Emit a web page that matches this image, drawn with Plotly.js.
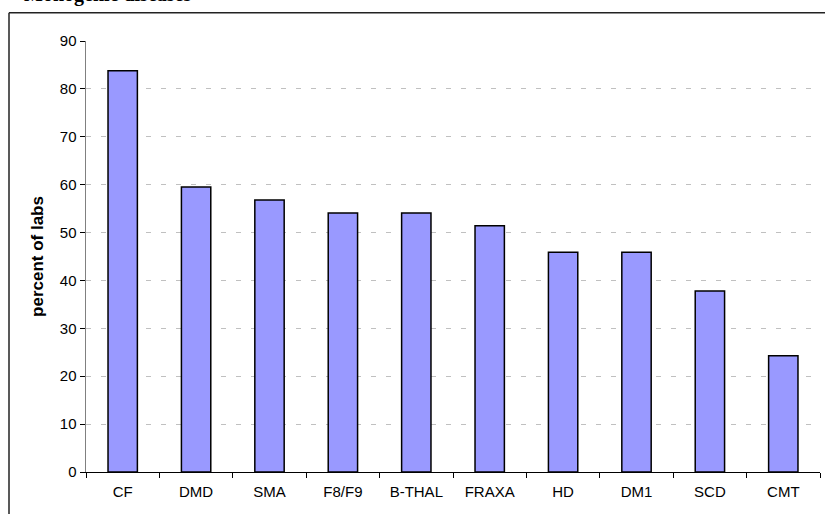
<!DOCTYPE html>
<html>
<head>
<meta charset="utf-8">
<script src="https://cdn.plot.ly/plotly-3.0.1.min.js"></script>
<style>html,body{margin:0;padding:0;background:#fff;}#chart{width:825px;height:514px;}</style>
</head>
<body>
<div id="chart"></div>
<script>
const categories = ["CF", "DMD", "SMA", "F8/F9", "B-THAL", "FRAXA", "HD", "DM1", "SCD", "CMT"];
const percentOfLabs = [83.8, 59.5, 56.8, 54.1, 54.1, 51.4, 45.9, 45.9, 37.8, 24.3];
const yTicks = [0, 10, 20, 30, 40, 50, 60, 70, 80, 90];
const titleText = "Monogenic diseases";
const yTitle = "percent of labs";

const trace = {
  type: "bar",
  x: categories,
  y: percentOfLabs,
  width: 0.4,
  marker: {color: "#9999FF", line: {color: "#000000", width: 1.5}},
  hoverinfo: "x+y"
};

const layout = {
  width: 825, height: 514,
  margin: {l: 86, r: 5, t: 41, b: 42, pad: 0},
  paper_bgcolor: "#ffffff",
  plot_bgcolor: "#ffffff",
  showlegend: false,
  font: {family: "Liberation Sans, Arial, sans-serif", size: 15, color: "#000"},
  xaxis: {
    type: "category",
    tickson: "boundaries",
    ticks: "outside", ticklen: 5, tickcolor: "#000", tickwidth: 1,
    ticklabelstandoff: 6,
    showline: true, linecolor: "#000", linewidth: 1,
    showgrid: false, zeroline: false,
    tickfont: {size: 15},
    range: [-0.5, 9.5]
  },
  yaxis: {
    range: [0, 90],
    tickvals: yTicks,
    ticks: "outside", ticklen: 5, tickcolor: "#000", tickwidth: 1,
    showline: true, linecolor: "#808080", linewidth: 1.5,
    showgrid: true, gridcolor: "#c0c0c0", gridwidth: 1, griddash: "5px,10px",
    zeroline: false,
    tickfont: {size: 15},
    title: {text: yTitle, font: {size: 17, weight: "bold"}, standoff: 12}
  },
  annotations: [
    {text: "<b>" + titleText + "</b>", xref: "paper", yref: "paper",
     x: (22 - 86) / 734, xanchor: "left", y: (472 - 8) / 431, yanchor: "bottom",
     showarrow: false,
     font: {family: "Liberation Serif, Times New Roman, serif", size: 20, color: "#000"}}
  ],
  shapes: [
    {type: "line", xref: "paper", yref: "paper", x0: -0.1049, x1: 1.01, y0: 1.0655, y1: 1.0655,
     line: {color: "#222", width: 1.5}},
    {type: "line", xref: "paper", yref: "paper", x0: -0.1049, x1: -0.1049, y0: 1.0655, y1: -0.12,
     line: {color: "#222", width: 1.5}}
  ]
};

Plotly.newPlot("chart", [trace], layout, {displayModeBar: false, staticPlot: true});
</script>
</body>
</html>
